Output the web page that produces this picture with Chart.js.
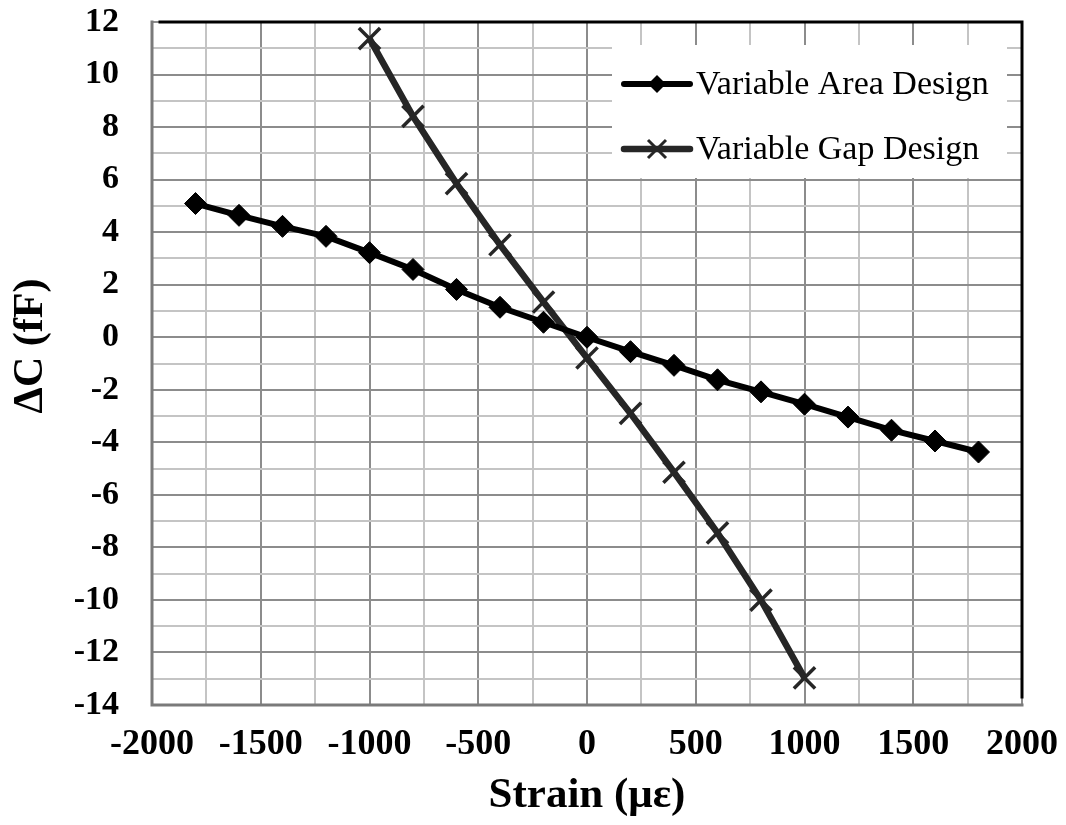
<!DOCTYPE html>
<html>
<head>
<meta charset="utf-8">
<script src="https://cdn.jsdelivr.net/npm/chart.js@4/dist/chart.umd.min.js"></script>
<style>
  html, body { margin: 0; padding: 0; background: #fff; }
  #wrap { width: 1066px; height: 825px; }
</style>
</head>
<body>
<div id="wrap"><canvas id="c" width="1066" height="825"></canvas></div>
<script>
// Strain sweep (µε) and capacitance change (fF) for the two sensor designs
const strainArea = [-1800, -1600, -1400, -1200, -1000, -800, -600, -400, -200, 0, 200, 400, 600, 800, 1000, 1200, 1400, 1600, 1800];
const areaValues = [5.09, 4.64, 4.22, 3.84, 3.22, 2.58, 1.82, 1.14, 0.57, 0.0, -0.55, -1.07, -1.62, -2.08, -2.55, -3.04, -3.54, -3.95, -4.37];

const strainGap = [-1000, -800, -600, -400, -200, 0, 200, 400, 600, 800, 1000];
const gapValues = [11.37, 8.41, 5.85, 3.52, 1.34, -0.79, -2.9, -5.14, -7.45, -10.01, -12.97];

const seriesNames = ['Variable Area Design', 'Variable Gap Design'];
const xTitle = 'Strain (\u03BC\u03B5)';
const yTitle = '\u0394C (fF)';

const SERIF = '"Liberation Serif", "Times New Roman", serif';
const areaColor = '#000000';
const gapColor = '#262626';

const toPoints = (xs, ys) => xs.map((x, i) => ({ x: x, y: ys[i] }));

// Plot frame: grey left/bottom edges, black top/right edges
const framePlugin = {
  id: 'frame',
  afterDatasetsDraw(chart) {
    const { ctx, chartArea: a } = chart;
    ctx.save();
    ctx.lineCap = 'square';
    ctx.strokeStyle = '#7a7a7a';
    ctx.lineWidth = 3;
    ctx.beginPath();
    ctx.moveTo(a.left, a.top);
    ctx.lineTo(a.left, a.bottom);
    ctx.lineTo(a.right, a.bottom);
    ctx.stroke();
    ctx.strokeStyle = '#000';
    ctx.lineWidth = 3;
    ctx.beginPath();
    ctx.moveTo(a.left + 8, a.top);
    ctx.lineTo(a.right, a.top);
    ctx.lineTo(a.right, a.bottom - 8);
    ctx.stroke();
    ctx.restore();
  }
};

// Vertical axis title, set slightly above the middle of the axis
const yTitlePlugin = {
  id: 'yTitle',
  afterDraw(chart) {
    const { ctx } = chart;
    ctx.save();
    ctx.translate(31, 346);
    ctx.rotate(-Math.PI / 2);
    ctx.fillStyle = '#000';
    ctx.font = 'bold 42px ' + SERIF;
    ctx.textAlign = 'center';
    ctx.textBaseline = 'middle';
    ctx.fillText(yTitle, 0, 0);
    ctx.restore();
  }
};

// Boxed legend inside the plot area (top right)
const insetLegend = {
  id: 'insetLegend',
  afterDraw(chart) {
    const { ctx, chartArea: a } = chart;
    const boxL = a.right - 410, boxT = a.top + 23, boxW = 395, boxH = 133;
    ctx.save();
    ctx.fillStyle = '#fff';
    ctx.fillRect(boxL, boxT, boxW, boxH);
    const rows = [
      { label: seriesNames[0], color: areaColor, width: 6, marker: 'diamond' },
      { label: seriesNames[1], color: gapColor, width: 6.5, marker: 'cross' }
    ];
    rows.forEach((r, i) => {
      const y = boxT + 39 + i * 65;
      const x0 = boxL + 12, x1 = boxL + 78, xm = (x0 + x1) / 2;
      ctx.strokeStyle = r.color;
      ctx.lineWidth = r.width;
      ctx.lineCap = 'round';
      ctx.beginPath();
      ctx.moveTo(x0, y);
      ctx.lineTo(x1, y);
      ctx.stroke();
      if (r.marker === 'diamond') {
        ctx.fillStyle = r.color;
        ctx.beginPath();
        ctx.moveTo(xm, y - 9);
        ctx.lineTo(xm + 9, y);
        ctx.lineTo(xm, y + 9);
        ctx.lineTo(xm - 9, y);
        ctx.closePath();
        ctx.fill();
      } else {
        ctx.lineWidth = 3;
        ctx.lineCap = 'butt';
        ctx.beginPath();
        ctx.moveTo(xm - 9, y - 9);
        ctx.lineTo(xm + 9, y + 9);
        ctx.moveTo(xm + 9, y - 9);
        ctx.lineTo(xm - 9, y + 9);
        ctx.stroke();
      }
      ctx.fillStyle = '#000';
      ctx.font = '34px ' + SERIF;
      ctx.textAlign = 'left';
      ctx.textBaseline = 'middle';
      ctx.fillText(r.label, x1 + 6, y + 1);
    });
    ctx.restore();
  }
};

const gridColor = (major) => (ctx) => {
  const v = ctx.tick ? ctx.tick.value : 0;
  return Math.abs(v % major) < 1e-9 ? '#8c8c8c' : '#c4c4c4';
};

new Chart(document.getElementById('c'), {
  type: 'line',
  data: {
    datasets: [
      {
        label: seriesNames[0],
        data: toPoints(strainArea, areaValues),
        borderColor: areaColor,
        backgroundColor: areaColor,
        borderWidth: 6,
        pointStyle: 'rectRot',
        pointRadius: 11,
        pointBorderWidth: 1,
        tension: 0
      },
      {
        label: seriesNames[1],
        data: toPoints(strainGap, gapValues),
        borderColor: gapColor,
        backgroundColor: gapColor,
        borderWidth: 6.5,
        pointStyle: 'crossRot',
        pointRadius: 15,
        pointBorderWidth: 3.5,
        tension: 0
      }
    ]
  },
  options: {
    responsive: false,
    animation: false,
    layout: { padding: { top: 22, right: 44, left: 0, bottom: 0 } },
    plugins: {
      legend: { display: false },
      tooltip: { enabled: false }
    },
    scales: {
      x: {
        type: 'linear',
        min: -2000,
        max: 2000,
        afterFit(s) { s.height = 120; s.paddingLeft = 0; s.paddingRight = 0; },
        ticks: {
          stepSize: 250,
          autoSkip: false,
          maxRotation: 0,
          padding: 18,
          color: '#000',
          font: { family: SERIF, size: 36, weight: 'bold' },
          callback: (v) => (v % 500 === 0 ? String(v) : '')
        },
        grid: { color: gridColor(500), lineWidth: 2, drawTicks: false },
        border: { display: false },
        title: {
          display: true,
          text: xTitle,
          color: '#000',
          font: { family: SERIF, size: 43, weight: 'bold' },
          padding: { top: 0, bottom: 3 }
        }
      },
      y: {
        type: 'linear',
        min: -14,
        max: 12,
        afterFit(s) { s.width = 152; s.paddingTop = 0; s.paddingBottom = 0; },
        ticks: {
          stepSize: 1,
          autoSkip: false,
          padding: 33,
          color: '#000',
          font: { family: SERIF, size: 34, weight: 'bold' },
          callback: (v) => (v % 2 === 0 ? String(v) : '')
        },
        grid: { color: gridColor(2), lineWidth: 2, drawTicks: false },
        border: { display: false },
        title: { display: false }
      }
    }
  },
  plugins: [framePlugin, yTitlePlugin, insetLegend]
});
</script>
</body>
</html>
